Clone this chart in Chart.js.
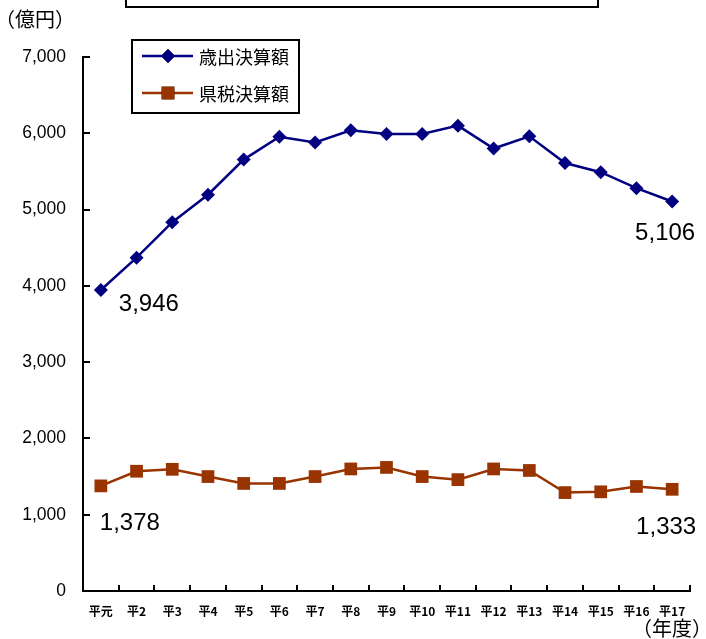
<!DOCTYPE html>
<html lang="ja">
<head>
<meta charset="utf-8">
<title>歳出決算額と県税決算額の推移</title>
<script src="https://cdn.jsdelivr.net/npm/chart.js@4/dist/chart.umd.min.js"></script>
<style>
  html, body { margin: 0; padding: 0; background: #fff; }
  #wrap { position: relative; width: 706px; height: 639px; }
  canvas { display: block; }
</style>
</head>
<body>
<div id="wrap"><canvas id="c" width="706" height="639"></canvas></div>
<script>
// 年度（平成）
const years = ['平元', '平2', '平3', '平4', '平5', '平6', '平7', '平8', '平9',
               '平10', '平11', '平12', '平13', '平14', '平15', '平16', '平17'];
// 歳出決算額（億円）
const expenditure = [3946, 4370, 4835, 5195, 5655, 5955, 5880, 6040, 5990,
                     5990, 6100, 5800, 5960, 5610, 5490, 5280, 5106];
// 県税決算額（億円）
const prefTax = [1378, 1570, 1595, 1500, 1410, 1410, 1500, 1600, 1620,
                 1500, 1460, 1600, 1580, 1290, 1300, 1370, 1333];
// 縦軸の目盛
const yTicks = [0, 1000, 2000, 3000, 4000, 5000, 6000, 7000];
const seriesNames = ['歳出決算額', '県税決算額'];

const NUM_FONT = '"Liberation Sans", Arial, sans-serif';
const JP_FONT = '"Noto Sans CJK JP", "Noto Sans", sans-serif';

const fmt = v => v.toLocaleString('en-US');

// 内向きの目盛線
const innerTicks = {
  id: 'innerTicks',
  afterDraw(chart) {
    const { ctx, scales: { x, y } } = chart;
    ctx.save();
    ctx.strokeStyle = '#000';
    ctx.lineWidth = 2;
    ctx.beginPath();
    yTicks.forEach(v => {
      const py = Math.round(y.getPixelForValue(v));
      ctx.moveTo(x.left, py);
      ctx.lineTo(x.left + 7, py);
    });
    const n = years.length;
    const step = (x.right - x.left) / n;
    for (let i = 0; i <= n; i++) {
      const px = Math.round(x.left + i * step);
      ctx.moveTo(px, y.bottom);
      ctx.lineTo(px, y.bottom - 6);
    }
    ctx.stroke();
    ctx.restore();
  }
};

// 凡例・単位・枠・数値ラベル
const decorations = {
  id: 'decorations',
  afterDraw(chart) {
    const { ctx } = chart;
    ctx.save();

    // 上部の枠
    ctx.strokeStyle = '#000';
    ctx.lineWidth = 2;
    ctx.strokeRect(126, -10, 472, 17);

    // 単位
    ctx.fillStyle = '#000';
    ctx.font = '20px ' + JP_FONT;
    ctx.textBaseline = 'middle';
    ctx.textAlign = 'left';
    ctx.fillText('（億円）', -5, 19);
    ctx.textAlign = 'right';
    ctx.fillText('（年度）', 712, 628);

    // 凡例
    ctx.lineWidth = 2;
    ctx.strokeStyle = '#000';
    ctx.strokeRect(132, 40, 167, 73);
    const rows = [56, 93];
    chart.data.datasets.forEach((ds, i) => {
      const yy = rows[i];
      ctx.strokeStyle = ds.borderColor;
      ctx.lineWidth = 2.5;
      ctx.beginPath();
      ctx.moveTo(142, yy);
      ctx.lineTo(193, yy);
      ctx.stroke();
      Chart.helpers.drawPoint(ctx, {
        pointStyle: ds.pointStyle,
        radius: ds.pointRadius,
        borderWidth: 0
      }, 168, yy);
      ctx.fillStyle = ds.pointBackgroundColor;
      ctx.fill();
      ctx.fillStyle = '#000';
      ctx.font = '18px ' + JP_FONT;
      ctx.textAlign = 'left';
      ctx.textBaseline = 'middle';
      ctx.fillText(ds.label, 199, yy + 1);
    });

    // 始点・終点の数値
    ctx.font = '24px ' + NUM_FONT;
    ctx.fillStyle = '#000';
    ctx.textAlign = 'center';
    ctx.textBaseline = 'middle';
    const labelOffsets = [
      [[0, 48, 14], [years.length - 1, -7, 32]],
      [[0, 29, 37], [years.length - 1, -6, 38]]
    ];
    labelOffsets.forEach((list, di) => {
      const meta = chart.getDatasetMeta(di);
      const values = chart.data.datasets[di].data;
      list.forEach(([idx, dx, dy]) => {
        const pt = meta.data[idx];
        ctx.fillText(fmt(values[idx]), pt.x + dx, pt.y + dy);
      });
    });
    ctx.restore();
  }
};

new Chart(document.getElementById('c'), {
  type: 'line',
  data: {
    labels: years,
    datasets: [
      {
        label: seriesNames[0],
        data: expenditure,
        borderColor: '#000080',
        backgroundColor: '#000080',
        pointBackgroundColor: '#000080',
        pointBorderColor: '#000080',
        pointStyle: 'rectRot',
        pointRadius: 7,
        pointBorderWidth: 0,
        borderWidth: 2.5,
        tension: 0
      },
      {
        label: seriesNames[1],
        data: prefTax,
        borderColor: '#993300',
        backgroundColor: '#993300',
        pointBackgroundColor: '#993300',
        pointBorderColor: '#993300',
        pointStyle: 'rect',
        pointRadius: 9,
        pointBorderWidth: 0,
        borderWidth: 2.5,
        tension: 0
      }
    ]
  },
  options: {
    responsive: false,
    animation: false,
    layout: { padding: { top: 57, right: 16, bottom: 0, left: 0 } },
    plugins: {
      legend: { display: false },
      tooltip: { enabled: false }
    },
    scales: {
      x: {
        offset: true,
        grid: { display: false, drawTicks: false },
        border: { display: true, color: '#000', width: 2 },
        ticks: {
          color: '#000',
          font: { family: JP_FONT, size: 12, weight: 'bold' },
          padding: 13,
          maxRotation: 0,
          autoSkip: false
        },
        afterFit(scale) { scale.height = 48; }
      },
      y: {
        min: 0,
        max: 7000,
        afterBuildTicks(scale) { scale.ticks = yTicks.map(v => ({ value: v })); },
        grid: { display: false, drawTicks: false },
        border: { display: true, color: '#000', width: 2 },
        ticks: {
          color: '#000',
          font: { family: NUM_FONT, size: 17.5 },
          padding: 17,
          callback: v => fmt(v)
        },
        afterFit(scale) { scale.width = 83; }
      }
    }
  },
  plugins: [innerTicks, decorations]
});
</script>
</body>
</html>
